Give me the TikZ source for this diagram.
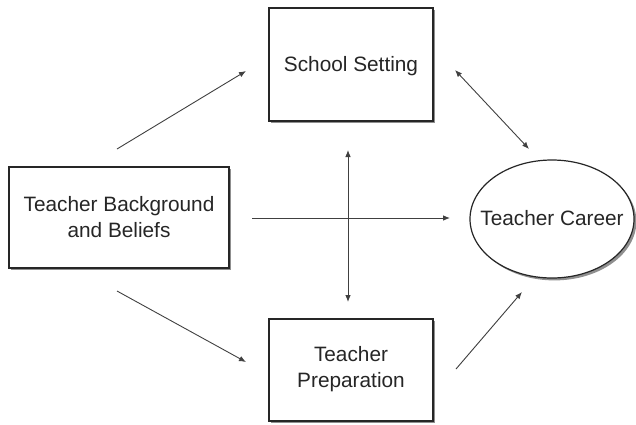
\documentclass[tikz,border=0pt]{standalone}
\usepackage{fontspec}
\setmainfont{Liberation Sans}
\usetikzlibrary{arrows.meta,shadows,shapes.geometric}
\begin{document}
\begin{tikzpicture}[x=0.5pt,y=-0.5pt,
  box/.style={draw=black!85,line width=0.6pt,fill=white,inner sep=0pt,
    drop shadow={shadow xshift=1.2pt,shadow yshift=-1.2pt,fill=black!55,opacity=0.8}},
  lbl/.style={font=\fontsize{10.4}{13}\selectfont,text=black!85,align=center},
  conn/.style={draw=black!75,line width=0.45pt,-{Latex[length=3.5pt,width=2.8pt]}},
  bconn/.style={conn,{Latex[length=3.5pt,width=2.8pt]}-{Latex[length=3.5pt,width=2.8pt]}}]
\useasboundingbox (0,0) rectangle (636,424);
% boxes
\node[box,minimum width=82pt,minimum height=56.5pt] (school) at (351,64.5) {};
\node[lbl] (schoolt) at (351,66) {School Setting};
\node[box,minimum width=110pt,minimum height=50.5pt] (bg) at (119,217.5) {};
\node[lbl] (bgt) at (119,217) {Teacher Background\\and Beliefs};
\node[box,minimum width=82pt,minimum height=51pt] (prep) at (351,370) {};
\node[lbl] (prept) at (351,369) {Teacher\\Preparation};
\node[box,ellipse,minimum width=82pt,minimum height=59pt] (career) at (552,219) {};
\node[lbl] (careert) at (552,218) {Teacher Career};
% connector end points
\coordinate (a1) at (117,149);
\coordinate (a2) at (246,71);
\coordinate (b1) at (117,291);
\coordinate (b2) at (246,362);
\coordinate (h1) at (252,218);
\coordinate (h2) at (450,218);
\coordinate (v1) at (348,150);
\coordinate (v2) at (348,302);
\coordinate (s1) at (455,70);
\coordinate (s2) at (529,149);
\coordinate (p1) at (456,369);
\coordinate (p2) at (522,292);
% connectors
\draw[conn] (a1) -- (a2);
\draw[conn] (b1) -- (b2);
\draw[conn] (h1) -- (h2);
\draw[bconn] (v1) -- (v2);
\draw[bconn] (s1) -- (s2);
\draw[conn] (p1) -- (p2);
\end{tikzpicture}
\end{document}
